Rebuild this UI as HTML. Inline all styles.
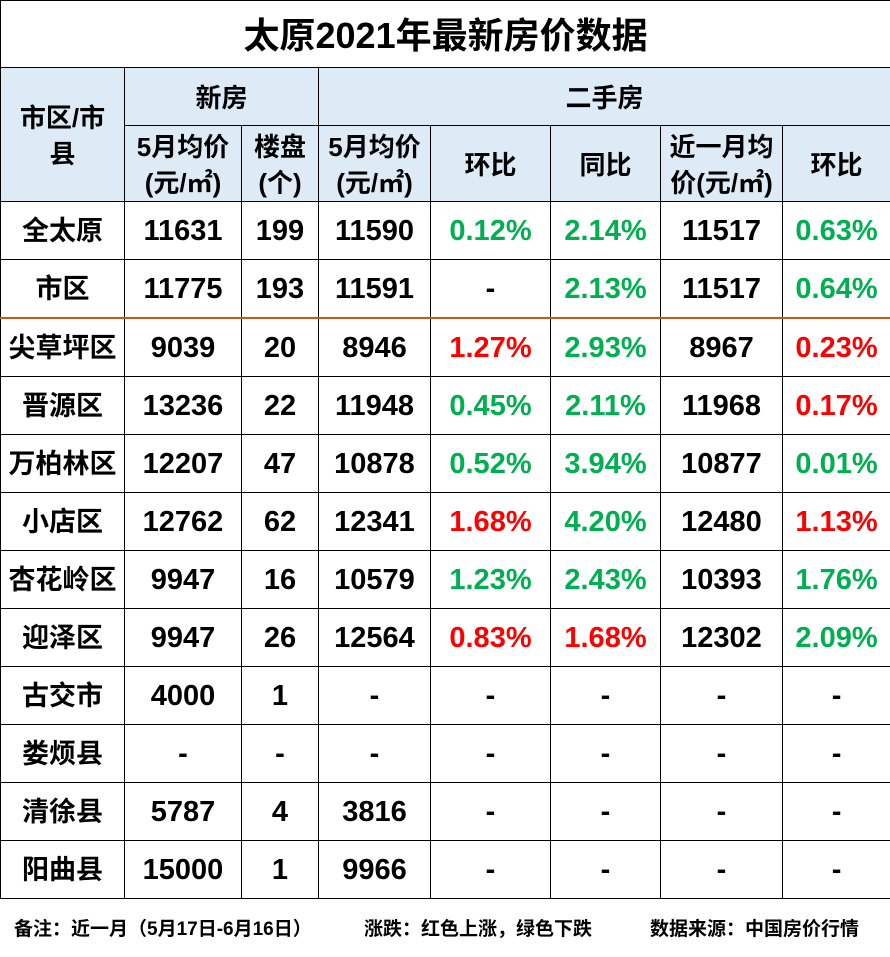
<!DOCTYPE html>
<html><head><meta charset="utf-8"><style>
body{margin:0;background:#fff;width:890px;height:957px;overflow:hidden;font-family:"Liberation Sans","Noto Sans CJK SC",sans-serif;font-weight:bold}
table{border-collapse:collapse;table-layout:fixed;width:890px;position:absolute;left:0;top:0}
td{border:1.5px solid #000;text-align:center;padding:0;font-size:29px;color:#000;line-height:1.1;padding-top:3px}
.h{background:#ddebf7;font-size:26px;line-height:36px}
.t{font-size:36px;height:63px}
.g{color:#00b050}.r{color:#ff0000}
.cn{font-size:27px}
tr.d td{height:54px}
tr.o td{border-top:2.5px solid #c55a11}
.foot{position:absolute;top:914px;font-size:19px;color:#000}
</style></head><body>
<table>
<colgroup><col style="width:124px"><col style="width:117px"><col style="width:77px"><col style="width:112px"><col style="width:120px"><col style="width:110px"><col style="width:122px"><col style="width:108px"></colgroup>
<tr><td class="t" colspan="8">太原2021年最新房价数据</td></tr>
<tr><td class="h" rowspan="2">市区/市<br>县</td><td class="h" colspan="2" style="height:54px">新房</td><td class="h" colspan="5">二手房</td></tr>
<tr><td class="h" style="height:72px">5月均价<br>(元/㎡)</td><td class="h">楼盘<br>(个)</td><td class="h">5月均价<br>(元/㎡)</td><td class="h">环比</td><td class="h">同比</td><td class="h">近一月均<br>价(元/㎡)</td><td class="h">环比</td></tr>
<tr class="d"><td class="cn">全太原</td><td>11631</td><td>199</td><td>11590</td><td class="g">0.12%</td><td class="g">2.14%</td><td>11517</td><td class="g">0.63%</td></tr>
<tr class="d"><td class="cn">市区</td><td>11775</td><td>193</td><td>11591</td><td>-</td><td class="g">2.13%</td><td>11517</td><td class="g">0.64%</td></tr>
<tr class="d o"><td class="cn">尖草坪区</td><td>9039</td><td>20</td><td>8946</td><td class="r">1.27%</td><td class="g">2.93%</td><td>8967</td><td class="r">0.23%</td></tr>
<tr class="d"><td class="cn">晋源区</td><td>13236</td><td>22</td><td>11948</td><td class="g">0.45%</td><td class="g">2.11%</td><td>11968</td><td class="r">0.17%</td></tr>
<tr class="d"><td class="cn">万柏林区</td><td>12207</td><td>47</td><td>10878</td><td class="g">0.52%</td><td class="g">3.94%</td><td>10877</td><td class="g">0.01%</td></tr>
<tr class="d"><td class="cn">小店区</td><td>12762</td><td>62</td><td>12341</td><td class="r">1.68%</td><td class="g">4.20%</td><td>12480</td><td class="r">1.13%</td></tr>
<tr class="d"><td class="cn">杏花岭区</td><td>9947</td><td>16</td><td>10579</td><td class="g">1.23%</td><td class="g">2.43%</td><td>10393</td><td class="g">1.76%</td></tr>
<tr class="d"><td class="cn">迎泽区</td><td>9947</td><td>26</td><td>12564</td><td class="r">0.83%</td><td class="r">1.68%</td><td>12302</td><td class="g">2.09%</td></tr>
<tr class="d"><td class="cn">古交市</td><td>4000</td><td>1</td><td>-</td><td>-</td><td>-</td><td>-</td><td>-</td></tr>
<tr class="d"><td class="cn">娄烦县</td><td>-</td><td>-</td><td>-</td><td>-</td><td>-</td><td>-</td><td>-</td></tr>
<tr class="d"><td class="cn">清徐县</td><td>5787</td><td>4</td><td>3816</td><td>-</td><td>-</td><td>-</td><td>-</td></tr>
<tr class="d"><td class="cn">阳曲县</td><td>15000</td><td>1</td><td>9966</td><td>-</td><td>-</td><td>-</td><td>-</td></tr>
</table>
<div class="foot" style="left:14px">备注：近一月（5月17日-6月16日）</div>
<div class="foot" style="left:364px">涨跌：红色上涨，绿色下跌</div>
<div class="foot" style="left:650px">数据来源：中国房价行情</div>
</body></html>
